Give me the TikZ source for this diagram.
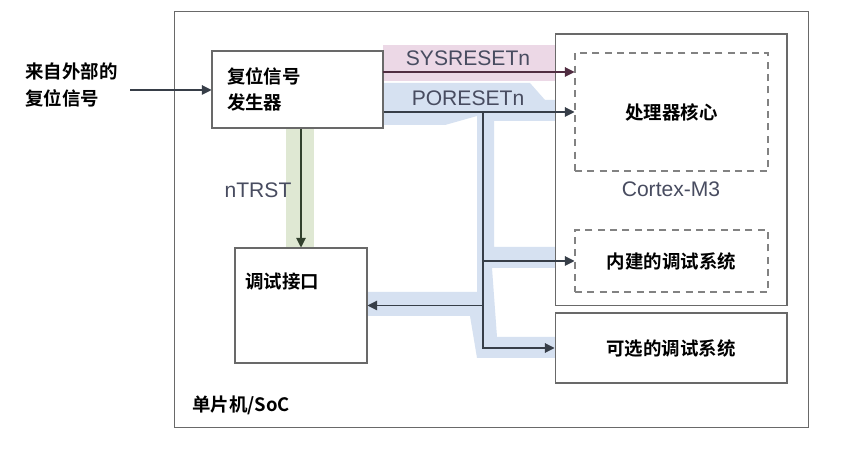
\documentclass[tikz,border=0pt]{standalone}
\usepackage{fontspec}
\setmainfont{Liberation Sans}
\newfontfamily\cjk{Noto Sans CJK SC}[BoldFont={Noto Sans CJK SC Bold}]
\usetikzlibrary{positioning, arrows.meta, calc}

\definecolor{lineDark}{RGB}{55,62,72}
\definecolor{boxGray}{RGB}{105,105,105}
\definecolor{dashGray}{RGB}{130,130,130}
\definecolor{lblGray}{RGB}{72,76,96}
\definecolor{bandBlue}{RGB}{214,225,241}
\definecolor{bandPink}{RGB}{236,216,230}
\definecolor{bandGreen}{RGB}{223,232,211}
\definecolor{sysDark}{RGB}{80,45,65}
\definecolor{trstDark}{RGB}{50,65,45}

\begin{document}
\begin{tikzpicture}[
    % Global Styles
    x=0.02cm, y=-0.02cm,
    >={Triangle[length=5.5pt, width=5.5pt]},
    % Boxes
    block/.style={draw=boxGray, fill=white, line width=0.6pt, inner sep=0pt},
    dashblock/.style={draw=dashGray, line width=0.6pt, dash pattern=on 4pt off 3pt, inner sep=0pt},
    % Texts
    txtcn/.style={font=\cjk\bfseries\fontsize{10.5}{14.5}\selectfont, text=black, align=left, inner sep=0pt},
    txtsig/.style={font=\fontsize{12}{14}\selectfont, text=lblGray, inner sep=0pt},
    % Signal lines
    sig/.style={draw=lineDark, line width=0.6pt, ->}
]
    \useasboundingbox (0,0) rectangle (852,452);

    % --- Outer box ---
    \node[block, minimum width=12.7cm, minimum height=8.34cm] (soc) at (491.5,219.5) {};
    \node[txtcn, anchor=west] (soclbl) at (192,405) {单片机/SoC};

    % --- Highlight bands ---
    \fill[bandPink] (383,45) rectangle (572,81);
    \fill[bandGreen] (286,128) rectangle (314,248);
    \fill[bandBlue] (383,83) -- (530,83) -- (545,100) -- (577,100) -- (577,121)
        -- (494,121) -- (494,247) -- (575,247) -- (575,268) -- (492,268)
        -- (497,337) -- (555,337) -- (555,358) -- (477,358) -- (470,316)
        -- (368,316) -- (368,292) -- (477,292) -- (477,116) -- (445,125)
        -- (383,125) -- cycle;

    % --- Blocks ---
    \node[block, minimum width=3.42cm, minimum height=1.54cm, text width=2.82cm,
          inner xsep=0.3cm, txtcn] (rstgen) at (297.5,89.5) {复位信号\\发生器};
    \node[block, minimum width=2.64cm, minimum height=2.3cm] (dbgif) at (301,305.5) {};
    \node[txtcn, anchor=west] (dbgiftxt) at (245,282) {调试接口};

    \node[block, minimum width=4.64cm, minimum height=5.44cm] (cortex) at (671,170) {};
    \node[dashblock, minimum width=3.86cm, minimum height=2.36cm, txtcn] (core) at (671.5,112) {处理器核心};
    \node[txtsig] (cortexlbl) at (671,189) {Cortex-M3};
    \node[dashblock, minimum width=3.86cm, minimum height=1.24cm, txtcn] (indbg) at (671.5,261) {内建的调试系统};
    \node[block, minimum width=4.64cm, minimum height=1.4cm, txtcn] (optdbg) at (671,348) {可选的调试系统};

    % --- External reset ---
    \node[txtcn, anchor=west, font=\cjk\bfseries\fontsize{10.5}{15}\selectfont] (ext) at (25,85) {来自外部的\\复位信号};
    \coordinate (extout) at (130,90);
    \draw[sig] (extout) -- (rstgen.west |- extout);

    % --- SYSRESETn ---
    \coordinate (sysout) at (383,72);
    \draw[sig, draw=sysDark] (sysout) -- (sysout -| core.west);
    \node[txtsig] (syslbl) at (468,58) {SYSRESETn};

    % --- PORESETn ---
    \coordinate (split) at (483,112);
    \draw[sig] (rstgen.east |- core.west) -- (core.west);
    \node[txtsig] (porlbl) at (468,98) {PORESETn};
    \draw[sig] (split) |- (optdbg.west);
    \draw[sig] (split |- indbg.west) -- (indbg.west);
    \draw[sig] (split |- dbgif.east) -- (dbgif.east);

    % --- nTRST ---
    \draw[sig, draw=trstDark] (dbgif.north |- rstgen.south) -- (dbgif.north);
    \node[txtsig] (trstlbl) at (258,190) {nTRST};

\end{tikzpicture}
\end{document}
